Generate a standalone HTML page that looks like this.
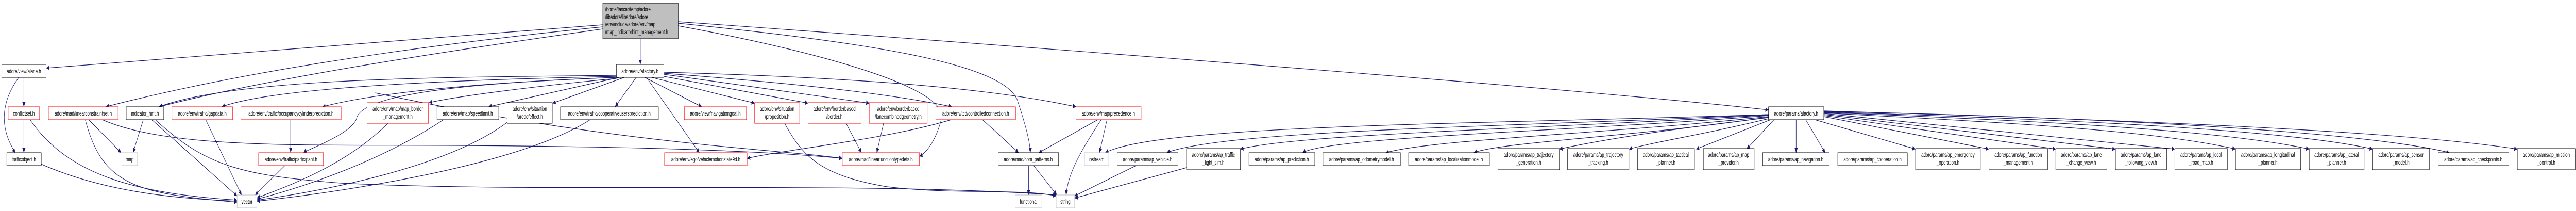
<!DOCTYPE html>
<html><head><meta charset="utf-8"><style>
html,body{margin:0;padding:0;background:#fff;width:100%;height:100%;overflow:hidden}
svg{display:block;width:100vw;height:100vh}
text{font-family:"Liberation Sans",Arial,sans-serif;font-size:12px;fill:#000}
.e{fill:none;stroke:#191970;stroke-width:1.2}
.n{fill:#fff;stroke:#000;stroke-width:1}
.r{fill:#fff;stroke:#ff0000;stroke-width:1}
.g{fill:#fff;stroke:#bfbfbf;stroke-width:1}
</style></head><body>
<svg viewBox="0 0 7551 409" preserveAspectRatio="none" xmlns="http://www.w3.org/2000/svg">
<defs><marker id="a" viewBox="0 0 10 10" refX="10" refY="5" markerWidth="9" markerHeight="9" orient="auto" markerUnits="userSpaceOnUse"><path d="M0,0 L10,5 L0,10 z" fill="#191970"/></marker></defs>
<g class="e" marker-end="url(#a)">
<path d="M1767,48 L136,132"/>
<path d="M1767,52 C1200,90 700,140 310,207"/>
<path d="M1767,56 C1300,100 800,150 466,207"/>
<path d="M1877,75 L1877,125"/>
<path d="M1988,42 C3000,90 4600,170 5184,213"/>
<path d="M1988,45 C2500,80 2960,120 2985,200 C3010,250 3020,280 3020,296"/>
<path d="M1988,50 C2400,100 2780,170 2760,230 C2740,280 2710,298 2695,303"/>
<path d="M1807,146 C1300,150 700,150 466,207"/>
<path d="M1807,148 C1300,155 800,170 650,207"/>
<path d="M1807,150 C1400,160 1100,180 945,207"/>
<path d="M1807,150 C1400,160 1060,180 1045,230 C1030,260 900,290 890,296"/>
<path d="M1807,152 C1600,165 1350,185 1258,199"/>
<path d="M1815,150 L1432,207"/>
<path d="M1830,150 L1620,200"/>
<path d="M1865,150 L1803,207"/>
<path d="M1890,150 L2057,207"/>
<path d="M1895,150 L2050,296"/>
<path d="M1910,150 L2212,200"/>
<path d="M1946,148 L2369,200"/>
<path d="M1946,144 L2548,200"/>
<path d="M1946,142 C2300,160 2600,180 2790,207"/>
<path d="M1946,140 C2500,150 2900,170 3154,207"/>
<path d="M1100,180 C1800,280 2300,290 2469,307"/>
<path d="M70,150 L70,207"/>
<path d="M55,150 C0,200 0,250 45,296"/>
<path d="M70,232 L70,296"/>
<path d="M88,232 C200,340 400,375 695,388"/>
<path d="M260,232 L355,296"/>
<path d="M250,232 C300,360 400,375 695,392"/>
<path d="M300,232 C500,290 900,280 1350,282 C1800,284 2200,290 2469,307"/>
<path d="M420,232 L390,296"/>
<path d="M445,232 L695,380"/>
<path d="M455,232 C600,320 700,340 1000,355 C1600,375 2500,350 3096,378"/>
<path d="M603,232 L708,378"/>
<path d="M852,232 L852,296"/>
<path d="M835,321 L748,378"/>
<path d="M120,318 C300,370 500,385 695,390"/>
<path d="M1137,239 C1000,330 800,370 753,384"/>
<path d="M1300,232 C1100,320 850,370 753,386"/>
<path d="M1487,237 C1300,330 900,375 753,388"/>
<path d="M1730,232 C1500,330 900,380 753,390"/>
<path d="M2300,239 C2350,300 2400,340 2600,362 C2800,378 3000,365 3096,380"/>
<path d="M2480,239 L2525,296"/>
<path d="M2590,239 L2570,296"/>
<path d="M2788,232 C2600,270 2300,290 2190,307"/>
<path d="M2880,232 L2986,296"/>
<path d="M3218,232 L3045,296"/>
<path d="M3228,232 C3160,300 3130,340 3125,378"/>
<path d="M3245,232 L3223,296"/>
<path d="M3015,321 L3015,378"/>
<path d="M3030,321 L3098,378"/>
<path d="M3330,321 L3150,380"/>
<path d="M3478,325 L3150,384"/>
<path d="M5184,222 C4400,240 3400,240 3240,296"/>
<path d="M5184,222 C4500,245 3600,250 3420,296"/>
<path d="M5184,223 C4500,250 3800,260 3636,289"/>
<path d="M5184,224 C4600,255 3900,265 3818,296"/>
<path d="M5184,226 C4700,260 4200,270 4062,296"/>
<path d="M5184,227 C4800,265 4400,275 4320,296"/>
<path d="M5184,228 C4900,250 4700,270 4571,289"/>
<path d="M5184,230 C5000,260 4850,275 4775,289"/>
<path d="M5190,232 L4972,289"/>
<path d="M5200,232 L5120,289"/>
<path d="M5265,232 L5265,296"/>
<path d="M5293,232 L5350,296"/>
<path d="M5320,232 L5615,289"/>
<path d="M5346,226 L5830,289"/>
<path d="M5346,224 L6026,289"/>
<path d="M5346,222 L6201,289"/>
<path d="M5346,220 L6375,289"/>
<path d="M5346,219 C5800,235 6300,250 6553,289"/>
<path d="M5346,218 C5900,232 6500,250 6769,289"/>
<path d="M5346,217 C6000,230 6700,250 6955,289"/>
<path d="M5346,216 C6000,225 6900,250 7180,296"/>
<path d="M5346,215 C6100,230 7000,250 7379,289"/>
</g>
<rect x="1767" y="6" width="221" height="69" fill="#bfbfbf" stroke="#000"/>
<text x="1774" y="22">/home/fascar/temp/adore</text>
<text x="1774" y="37">/libadore/libadore/adore</text>
<text x="1774" y="51">/env/include/adore/env/map</text>
<text x="1774" y="66">/map_indicatorhint_management.h</text>
<g text-anchor="middle">
<rect class="n" x="5" y="125" width="130" height="25"/><text x="70" y="142">adore/view/alane.h</text>
<rect class="n" x="1807" y="125" width="139" height="25"/><text x="1876" y="142">adore/env/afactory.h</text>
<rect class="r" x="24" y="207" width="92" height="25"/><text x="70" y="224">conflictset.h</text>
<rect class="r" x="142" y="207" width="204" height="25"/><text x="244" y="224">adore/mad/linearconstraintset.h</text>
<rect class="n" x="370" y="207" width="110" height="25"/><text x="425" y="224">indicator_hint.h</text>
<rect class="r" x="504" y="207" width="178" height="25"/><text x="593" y="224">adore/env/traffic/gapdata.h</text>
<rect class="r" x="706" y="207" width="294" height="25"/><text x="853" y="224">adore/env/traffic/occupancycylinderprediction.h</text>
<rect class="r" x="1076" y="199" width="180" height="40"/><text x="1166" y="215">adore/env/map/map_border</text><text x="1166" y="230">_management.h</text>
<rect class="n" x="1281" y="207" width="181" height="25"/><text x="1371" y="224">adore/env/map/speedlimit.h</text>
<rect class="n" x="1487" y="199" width="132" height="40"/><text x="1553" y="215">adore/env/situation</text><text x="1553" y="230">/areaofeffect.h</text>
<rect class="n" x="1643" y="207" width="287" height="25"/><text x="1786" y="224">adore/env/traffic/cooperativeusersprediction.h</text>
<rect class="r" x="2006" y="207" width="182" height="25"/><text x="2097" y="224">adore/view/navigationgoal.h</text>
<rect class="r" x="2212" y="199" width="132" height="40"/><text x="2278" y="215">adore/env/situation</text><text x="2278" y="230">/proposition.h</text>
<rect class="r" x="2369" y="199" width="155" height="40"/><text x="2446" y="215">adore/env/borderbased</text><text x="2446" y="230">/border.h</text>
<rect class="r" x="2548" y="199" width="170" height="40"/><text x="2633" y="215">adore/env/borderbased</text><text x="2633" y="230">/lanecombinedgeometry.h</text>
<rect class="r" x="2743" y="207" width="234" height="25"/><text x="2860" y="224">adore/env/tcd/controlledconnection.h</text>
<rect class="r" x="3154" y="207" width="191" height="25"/><text x="3249" y="224">adore/env/map/precedence.h</text>
<rect class="n" x="5184" y="207" width="162" height="25"/><text x="5265" y="224">adore/params/afactory.h</text>
<rect class="n" x="20" y="296" width="101" height="25"/><text x="70" y="313">trafficobject.h</text>
<rect class="g" x="357" y="296" width="46" height="25"/><text x="380" y="313">map</text>
<rect class="r" x="758" y="296" width="190" height="25"/><text x="853" y="313">adore/env/traffic/participant.h</text>
<rect class="r" x="1948" y="296" width="242" height="25"/><text x="2069" y="313">adore/env/ego/vehiclemotionstate9d.h</text>
<rect class="r" x="2469" y="296" width="226" height="25"/><text x="2582" y="313">adore/mad/linearfunctiontypedefs.h</text>
<rect class="n" x="2926" y="296" width="177" height="25"/><text x="3014" y="313">adore/mad/com_patterns.h</text>
<rect class="g" x="3179" y="296" width="71" height="25"/><text x="3214" y="313">iostream</text>
<rect class="n" x="3275" y="296" width="178" height="25"/><text x="3364" y="313">adore/params/ap_vehicle.h</text>
<rect class="n" x="3478" y="288" width="158" height="41"/><text x="3557" y="304">adore/params/ap_traffic</text><text x="3557" y="319">_light_sim.h</text>
<rect class="n" x="3661" y="296" width="193" height="25"/><text x="3757" y="313">adore/params/ap_prediction.h</text>
<rect class="n" x="3878" y="296" width="227" height="25"/><text x="3991" y="313">adore/params/ap_odometrymodel.h</text>
<rect class="n" x="4129" y="296" width="237" height="25"/><text x="4247" y="313">adore/params/ap_localizationmodel.h</text>
<rect class="n" x="4391" y="288" width="180" height="41"/><text x="4481" y="304">adore/params/ap_trajectory</text><text x="4481" y="319">_generation.h</text>
<rect class="n" x="4595" y="288" width="180" height="41"/><text x="4685" y="304">adore/params/ap_trajectory</text><text x="4685" y="319">_tracking.h</text>
<rect class="n" x="4800" y="288" width="167" height="41"/><text x="4883" y="304">adore/params/ap_tactical</text><text x="4883" y="319">_planner.h</text>
<rect class="n" x="4993" y="288" width="149" height="41"/><text x="5067" y="304">adore/params/ap_map</text><text x="5067" y="319">_provider.h</text>
<rect class="n" x="5167" y="296" width="195" height="25"/><text x="5264" y="313">adore/params/ap_navigation.h</text>
<rect class="n" x="5387" y="296" width="204" height="25"/><text x="5489" y="313">adore/params/ap_cooperation.h</text>
<rect class="n" x="5615" y="288" width="190" height="41"/><text x="5710" y="304">adore/params/ap_emergency</text><text x="5710" y="319">_operation.h</text>
<rect class="n" x="5830" y="288" width="172" height="41"/><text x="5916" y="304">adore/params/ap_function</text><text x="5916" y="319">_management.h</text>
<rect class="n" x="6026" y="288" width="150" height="41"/><text x="6101" y="304">adore/params/ap_lane</text><text x="6101" y="319">_change_view.h</text>
<rect class="n" x="6201" y="288" width="150" height="41"/><text x="6276" y="304">adore/params/ap_lane</text><text x="6276" y="319">_following_view.h</text>
<rect class="n" x="6375" y="288" width="154" height="41"/><text x="6452" y="304">adore/params/ap_local</text><text x="6452" y="319">_road_map.h</text>
<rect class="n" x="6553" y="288" width="191" height="41"/><text x="6648" y="304">adore/params/ap_longitudinal</text><text x="6648" y="319">_planner.h</text>
<rect class="n" x="6769" y="288" width="161" height="41"/><text x="6849" y="304">adore/params/ap_lateral</text><text x="6849" y="319">_planner.h</text>
<rect class="n" x="6955" y="288" width="166" height="41"/><text x="7038" y="304">adore/params/ap_sensor</text><text x="7038" y="319">_model.h</text>
<rect class="n" x="7147" y="296" width="207" height="25"/><text x="7250" y="313">adore/params/ap_checkpoints.h</text>
<rect class="n" x="7379" y="288" width="171" height="41"/><text x="7464" y="304">adore/params/ap_mission</text><text x="7464" y="319">_control.h</text>
<rect class="g" x="695" y="378" width="58" height="25"/><text x="724" y="395">vector</text>
<rect class="g" x="2976" y="378" width="78" height="25"/><text x="3015" y="395">functional</text>
<rect class="g" x="3096" y="378" width="54" height="25"/><text x="3123" y="395">string</text>
</g>
</svg>
</body></html>
